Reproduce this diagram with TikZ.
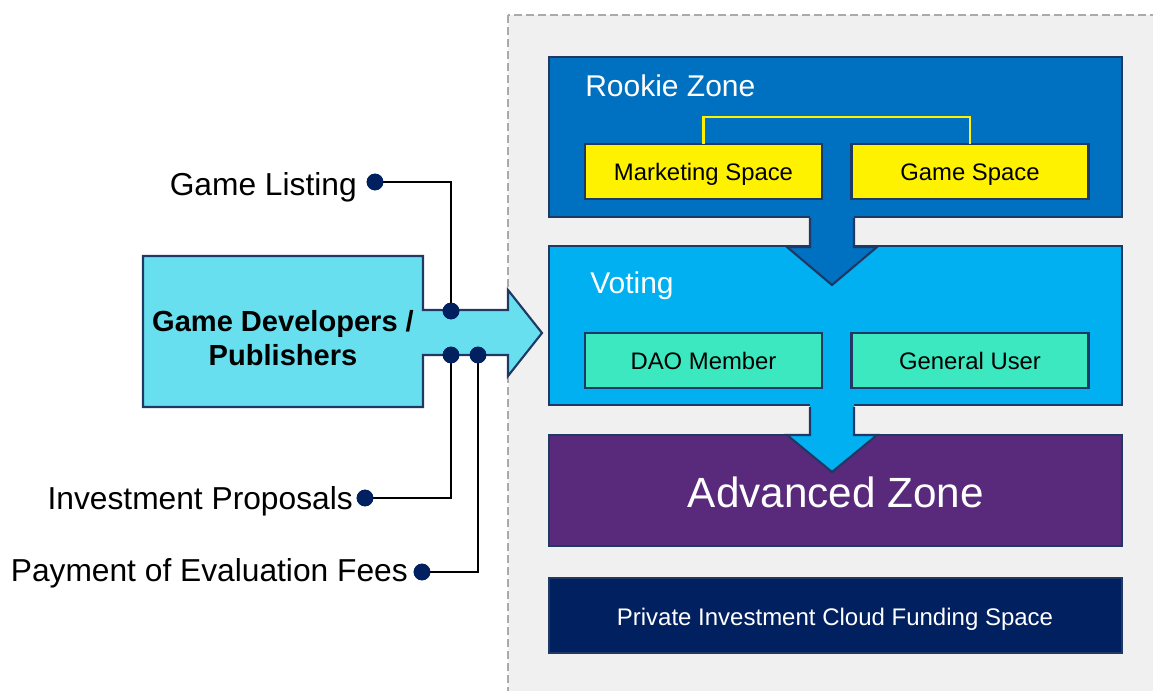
\documentclass[tikz,border=0pt]{standalone}
\usepackage{fontspec}
\setmainfont{Liberation Sans}
\begin{document}
\begin{tikzpicture}[x=0.75pt,y=-0.75pt,
  box/.style={draw=edge,line width=1.6pt,inner sep=0pt,outer sep=0pt},
  zone/.style={box,anchor=north west},
  inbox/.style={box,minimum width=177.75pt,minimum height=41.25pt,text height=13pt,text depth=0pt,font=\fontsize{17.9}{20}\selectfont},
  lbl/.style={inner sep=0pt,anchor=base east,font=\fontsize{23.8}{28}\selectfont},
  dot/.style={circle,fill=dotc,inner sep=0pt,minimum size=12.5pt},
  wire/.style={line width=1.6pt,black},
  title/.style={inner sep=0pt,anchor=base west,text=white,font=\fontsize{22.5}{26}\selectfont}]
\definecolor{edge}{RGB}{31,56,100}
\definecolor{rookie}{RGB}{0,112,192}
\definecolor{voting}{RGB}{0,176,240}
\definecolor{advanced}{RGB}{89,41,124}
\definecolor{private}{RGB}{0,32,96}
\definecolor{teal}{RGB}{60,232,192}
\definecolor{devc}{RGB}{103,223,239}
\definecolor{dotc}{RGB}{0,32,96}
\definecolor{panel}{RGB}{240,240,240}
\definecolor{dashc}{RGB}{170,170,170}

\useasboundingbox (0,0) rectangle (1153,691);
\fill[white] (0,0) rectangle (1153,691);

% dashed platform panel, running off the right and bottom edges
\begin{scope}
  \clip (0,0) rectangle (1153,691);
  \draw[fill=panel,draw=dashc,line width=1.5pt,dash pattern=on 6pt off 3pt]
    (508,15) rectangle (1170,710);
\end{scope}

% zones
\node[zone,fill=rookie,minimum width=429.75pt,minimum height=120pt] (rookie) at (549,57) {};
\node[zone,fill=voting,minimum width=429.75pt,minimum height=119.25pt] (voting) at (549,246) {};
\node[zone,fill=advanced,minimum width=429.75pt,minimum height=83.25pt] (adv) at (549,435) {};
\node[zone,fill=private,minimum width=429.75pt,minimum height=56.25pt] (priv) at (549,578) {};

\node[title] (rookieT) at (585,97) {Rookie Zone};
\node[title] (votingT) at (590,294) {Voting};
\node[inner sep=0pt,anchor=base,text=white,font=\fontsize{31.7}{36}\selectfont] (advT) at (836,507) {Advanced Zone};
\node[inner sep=0pt,anchor=base,text=white,font=\fontsize{18}{21}\selectfont] (privT) at (835,625) {Private Investment Cloud Funding Space};

% spaces inside the zones
\node[inbox,fill=yellow] (mkt) at (703.5,171.5) {Marketing Space};
\node[inbox,fill=yellow] (game) at (970,171.5) {Game Space};
\node[inbox,fill=teal] (dao) at (703.5,360.5) {DAO Member};
\node[inbox,fill=teal] (user) at (970,360.5) {General User};
\draw[yellow,line width=1.6pt] (mkt.north) coordinate (mk) -- (mk |- 0,117) -| (game.north);

% flow arrows between zones
\fill[rookie] (810,214) -- (810,247) -- (787,247) -- (832,285) -- (877,247) -- (854,247) -- (854,214) -- cycle;
\draw[edge,line width=1.6pt,line join=miter] (810,218) -- (810,247) -- (787,247) -- (832,285) -- (877,247) -- (854,247) -- (854,218);
\fill[voting] (810,403) -- (810,435) -- (787,435) -- (832,472) -- (877,435) -- (854,435) -- (854,403) -- cycle;
\draw[edge,line width=1.6pt,line join=miter] (810,407) -- (810,435) -- (787,435) -- (832,472) -- (877,435) -- (854,435) -- (854,407);

% developers block arrow
\draw[fill=devc,draw=edge,line width=1.6pt,line join=miter]
  (143,256) -- (423,256) -- (423,310) -- (508,310) -- (508,290) -- (542,333)
  -- (508,376) -- (508,355) -- (423,355) -- (423,407) -- (143,407) -- cycle;
\node[inner sep=0pt,align=center,font=\bfseries\fontsize{21.8}{25.5}\selectfont] (dev) at (283,338) {Game Developers /\\Publishers};

% inputs attached to the arrow
\node[dot] (d1) at (451,311) {};
\node[dot] (d2) at (451,355) {};
\node[dot] (d3) at (478,355) {};
\node[dot] (gl) at (375,182) {};
\node[dot] (ip) at (365,498) {};
\node[dot] (pf) at (422,572) {};
\node[lbl] (glT) at (357,196) {Game Listing};
\node[lbl] (ipT) at (353,509) {Investment Proposals};
\node[lbl] (pfT) at (408,581) {Payment of Evaluation Fees};

\draw[wire] (gl.center) -| (d1.center);
\draw[wire] (ip.center) -| (d2.center);
\draw[wire] (pf.center) -| (d3.center);
\node[dot] at (d1) {};
\node[dot] at (d2) {};
\node[dot] at (d3) {};
\node[dot] at (gl) {};
\node[dot] at (ip) {};
\node[dot] at (pf) {};
\end{tikzpicture}
\end{document}
